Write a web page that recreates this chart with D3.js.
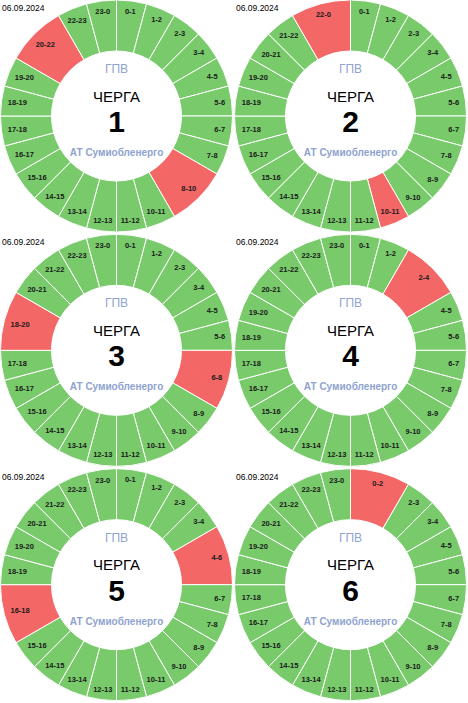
<!DOCTYPE html>
<html>
<head>
<meta charset="utf-8">
<script src="https://cdn.jsdelivr.net/npm/d3@7"></script>
<style>
	body { margin: 0; background: #fff; }
	svg { display: block; font-family: 'Liberation Sans', Arial, sans-serif; }
</style>
</head>
<body>
<svg id="chart"></svg>
<script>
const date = '06.09.2024'
const queues = [1, 2, 3, 4, 5, 6]
// outage ranges per queue, [start hour, end hour]
const outages = [
	[[8, 10], [20, 22]],
	[[10, 11], [22, 24]],
	[[6, 8], [18, 20]],
	[[2, 4]],
	[[4, 6], [16, 18]],
	[[0, 2]]
]
const title = 'ГПВ'
const caption = 'ЧЕРГА'
const company = 'АТ Сумиобленерго'

function buildSegments(ranges) {
	const segs = []
	let h = 0
	while (h < 24) {
		const r = ranges.find(r => r[0] === h)
		const end = r ? r[1] : h + 1
		segs.push({ from: h, to: end, hours: end - h, off: !!r, label: `${h}-${end % 24}` })
		h = end
	}
	return segs
}

function donuts() {
	const width = 468
	const height = 703
	const cols = 2
	const cellW = 234
	const cellH = height / 3
	const outer = 116
	const inner = 65

	const svg = d3.select('#chart').attr('width', width).attr('height', height)

	const color = d3.scaleOrdinal().domain([false, true]).range(['#78ca6b', '#f36767'])
	const pie = d3.pie().value(d => d.hours).sort(null)
	const arc = d3.arc().innerRadius(inner).outerRadius(outer)

	queues.forEach((q, i) => {
		const g = svg
			.append('g')
			.attr('transform', `translate(${(i % cols) * cellW},${Math.floor(i / cols) * cellH})`)

		const chart = g.append('g').attr('transform', 'translate(116.5,116)')
		const arcs = pie(buildSegments(outages[i]))

		chart
			.selectAll('path')
			.data(arcs)
			.join('path')
			.attr('d', arc)
			.attr('fill', d => color(d.data.off))
			.attr('stroke', '#fff')
			.attr('stroke-width', 1)

		chart
			.selectAll('text.seg')
			.data(arcs)
			.join('text')
			.attr('class', 'seg')
			.attr('text-anchor', 'middle')
			.attr('dominant-baseline', 'central')
			.attr('font-size', 7.5)
			.attr('font-weight', 'bold')
			.attr('fill', '#1a1a1a')
			.text(d => d.data.label)
			.each(function (d) {
				const a = (d.startAngle + d.endAngle) / 2
				const w = this.getComputedTextLength()
				const r = 110 - (Math.abs(Math.sin(a)) * w) / 2 - (Math.abs(Math.cos(a)) * 7) / 2
				d3.select(this)
					.attr('x', r * Math.sin(a))
					.attr('y', -r * Math.cos(a))
			})

		g.append('text').attr('x', 2).attr('y', 11).attr('font-size', 8.5).attr('fill', '#000').text(date)

		chart
			.append('text')
			.attr('text-anchor', 'middle')
			.attr('y', 73 - 116)
			.attr('font-size', 12)
			.attr('fill', '#8ea3cf')
			.text(title)

		chart
			.append('text')
			.attr('text-anchor', 'middle')
			.attr('y', 101.5 - 116)
			.attr('font-size', 15)
			.attr('fill', '#000')
			.text(caption)

		chart
			.append('text')
			.attr('text-anchor', 'middle')
			.attr('y', 132 - 116)
			.attr('font-size', 30)
			.attr('font-weight', 'bold')
			.attr('fill', '#000')
			.text(q)

		chart
			.append('text')
			.attr('text-anchor', 'middle')
			.attr('y', 156 - 116)
			.attr('font-size', 10)
			.attr('font-weight', 'bold')
			.attr('fill', '#8ea3cf')
			.text(company)
	})
}

donuts()
</script>
</body>
</html>
